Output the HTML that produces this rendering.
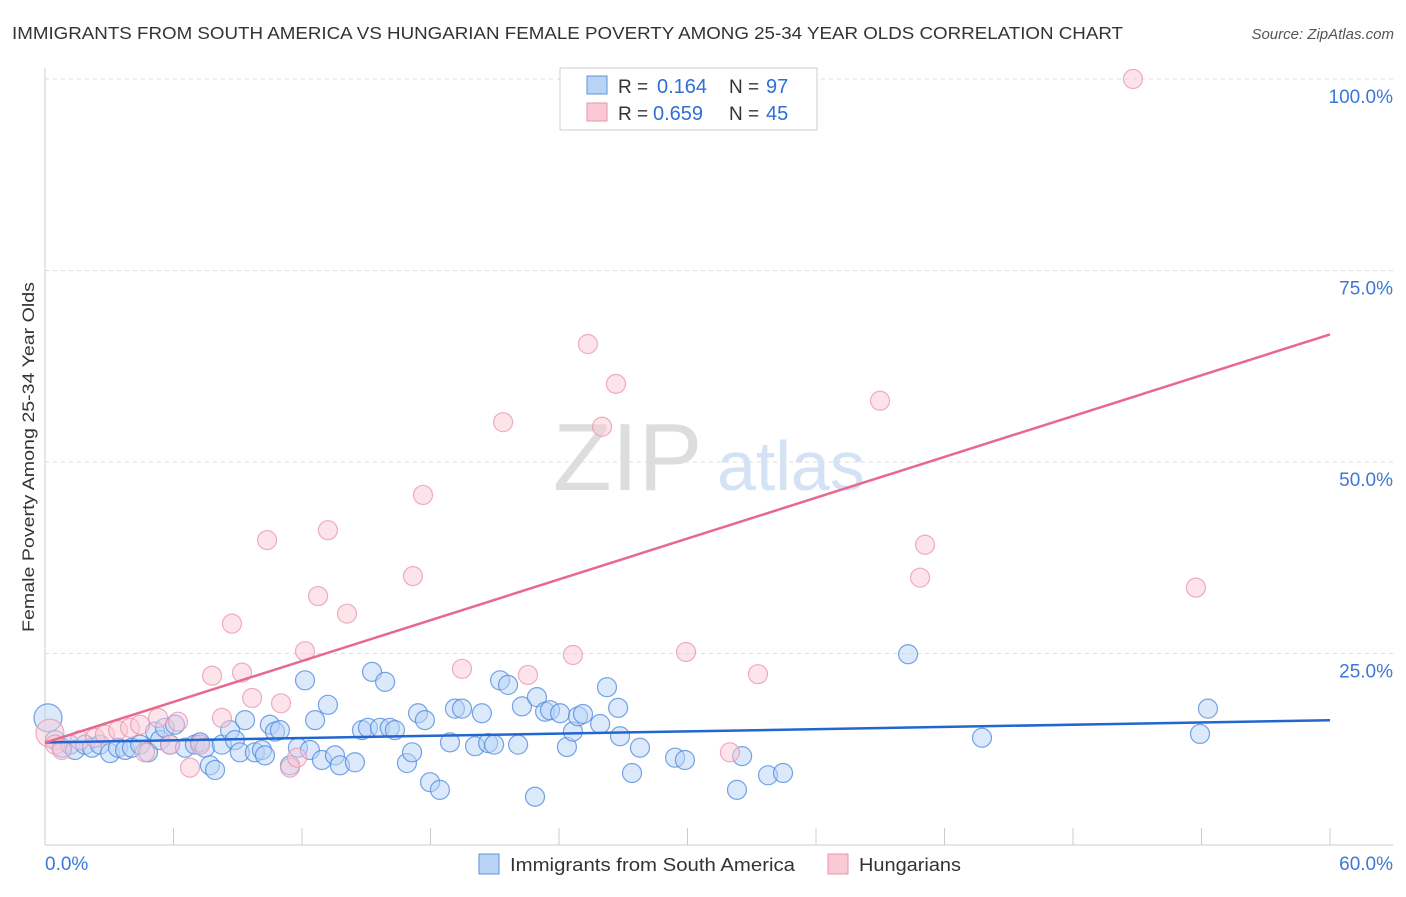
<!DOCTYPE html>
<html><head><meta charset="utf-8">
<style>
body{margin:0;background:#fff;font-family:"Liberation Sans",sans-serif;}
svg text{font-family:"Liberation Sans",sans-serif;}
</style></head>
<body>
<svg id="chart" width="1406" height="892" xmlns="http://www.w3.org/2000/svg">
<text x="12" y="39" font-size="17.5" fill="#333" textLength="1111" lengthAdjust="spacingAndGlyphs">IMMIGRANTS FROM SOUTH AMERICA VS HUNGARIAN FEMALE POVERTY AMONG 25-34 YEAR OLDS CORRELATION CHART</text>
<text x="1394" y="39" font-size="15" fill="#555" font-style="italic" text-anchor="end">Source: ZipAtlas.com</text>
<text x="553" y="490" font-size="96" fill="#ddd" font-family="Liberation Serif, serif">ZIP</text>
<text x="717" y="490" font-size="70" fill="#d4e2f5">atlas</text>
<g id="grid"></g>
<g id="axes"></g>
<g id="marks"></g>
<text transform="translate(34,457) rotate(-90)" font-size="17" fill="#333" text-anchor="middle" textLength="350" lengthAdjust="spacingAndGlyphs">Female Poverty Among 25-34 Year Olds</text>
<g>
<rect x="560" y="68" width="257" height="62" fill="#fff" stroke="#ccc"/>
<rect x="587" y="76" width="20" height="18" fill="#b8d3f5" stroke="#5b93de"/>
<rect x="587" y="103" width="20" height="18" fill="#f9c9d6" stroke="#e993ae"/>
<text x="618" y="93" font-size="19" fill="#333">R =</text>
<text x="657" y="93" font-size="20" fill="#2f6fd6">0.164</text>
<text x="729" y="93" font-size="19" fill="#333">N =</text>
<text x="766" y="93" font-size="20" fill="#2f6fd6">97</text>
<text x="618" y="120" font-size="19" fill="#333">R =</text>
<text x="653" y="120" font-size="20" fill="#2f6fd6">0.659</text>
<text x="729" y="120" font-size="19" fill="#333">N =</text>
<text x="766" y="120" font-size="20" fill="#2f6fd6">45</text>
</g>
<g>
<rect x="479" y="854" width="20" height="20" fill="#b8d3f5" stroke="#5b93de"/>
<text x="510" y="871" font-size="18.5" fill="#333" textLength="285" lengthAdjust="spacingAndGlyphs">Immigrants from South America</text>
<rect x="828" y="854" width="20" height="20" fill="#f9c9d6" stroke="#e993ae"/>
<text x="859" y="871" font-size="18.5" fill="#333" textLength="102" lengthAdjust="spacingAndGlyphs">Hungarians</text>
</g>
</svg>
<script>
const blueX=[0.14,0.47,0.79,1.17,1.4,1.87,2.19,2.57,3.04,3.41,3.74,4.06,4.44,4.81,5.14,5.37,5.6,5.84,6.07,6.54,7.0,7.24,7.47,7.7,7.94,8.26,8.64,8.87,9.1,9.34,9.8,10.13,10.27,10.5,10.74,10.97,11.44,11.81,12.14,12.37,12.61,12.93,13.21,13.54,13.77,14.47,14.8,15.08,15.27,15.64,15.88,16.1,16.34,16.9,17.14,17.42,17.74,17.98,18.44,18.91,19.14,19.47,20.08,20.4,20.69,20.97,21.25,21.62,22.09,22.27,22.88,22.97,23.35,23.58,24.05,24.37,24.65,24.89,25.12,25.92,26.24,26.76,26.85,27.41,27.78,29.42,29.88,32.31,32.55,33.76,34.46,40.3,43.75,53.93,54.3];
const blueY=[16.6,13.7,12.7,13.1,12.4,13.1,12.7,13.1,12.0,12.7,12.4,12.7,13.1,12.1,14.8,13.7,15.3,13.1,15.7,12.7,13.1,13.4,12.7,10.4,9.8,13.1,15.0,13.7,12.1,16.3,12.1,12.4,11.7,15.7,14.8,15.0,10.4,12.7,21.5,12.4,16.3,11.1,18.3,11.7,10.4,10.8,15.0,15.3,22.6,15.3,21.3,15.3,15.0,10.7,12.1,17.2,16.3,8.2,7.2,13.4,17.8,17.8,12.9,17.2,13.3,13.1,21.5,20.9,13.1,18.1,6.3,19.3,17.4,17.6,17.2,12.8,14.8,16.8,17.1,15.8,20.6,17.9,14.2,9.4,12.7,11.4,11.1,7.2,11.6,9.1,9.4,24.9,14.0,14.5,17.8];
const pinkX=[0.23,0.47,0.79,1.63,2.33,2.8,3.41,3.97,4.44,4.67,5.28,5.84,6.21,6.77,7.24,7.8,8.26,8.73,9.2,9.67,10.37,11.02,11.44,11.77,12.14,12.75,13.21,14.1,17.18,17.65,19.47,21.39,22.55,24.65,25.35,26.01,26.66,29.93,31.98,33.29,38.99,40.86,41.09,50.8,53.74];
const pinkY=[14.6,13.1,12.4,13.7,14.0,14.4,15.0,15.3,15.7,12.1,16.6,13.1,16.1,10.1,13.1,22.1,16.6,28.9,22.5,19.2,39.8,18.5,10.1,11.4,25.3,32.5,41.1,30.2,35.1,45.7,23.0,55.2,22.2,24.8,65.4,54.6,60.2,25.2,12.1,22.3,58.0,34.9,39.2,100,33.6];
const xTicks=["0.0%","60.0%"];
const yTicks=[25,50,75,100];
const yTickLabels=["25.0%","50.0%","75.0%","100.0%"];

const NS="http://www.w3.org/2000/svg";
const X0=45,X1=1330,Y0=845,Y100=79;
const sx=v=>X0+(v/60)*(X1-X0);
const sy=v=>Y0-(v/100)*(Y0-Y100);
function mk(tag,attrs,parent){const e=document.createElementNS(NS,tag);for(const k in attrs)e.setAttribute(k,attrs[k]);parent.appendChild(e);return e;}
const grid=document.getElementById('grid'),axes=document.getElementById('axes'),marks=document.getElementById('marks');
yTicks.forEach((t,i)=>{
  const l=mk('line',{x1:X0,x2:1393,y1:sy(t),y2:sy(t),stroke:'#ddd','stroke-dasharray':'4,4'},grid);
  
  
  const tx=mk('text',{x:1393,y:sy(t)+24,'font-size':19,fill:'#3b78d8','text-anchor':'end'},axes);
  tx.textContent=yTickLabels[i];
  
  
});
const ax=mk('line',{x1:X0,x2:1393,y1:Y0,y2:Y0,stroke:'#ccc'},axes);


const ay=mk('line',{x1:X0,x2:X0,y1:68,y2:Y0,stroke:'#ccc'},axes);


for(let i=0;i<=10;i++){
  const t=mk('line',{x1:sx(i*6),x2:sx(i*6),y1:828,y2:Y0,stroke:'#ccc'},axes);
  
  
}
const xl0=mk('text',{x:45,y:870,'font-size':19,fill:'#3b78d8'},axes);xl0.textContent=xTicks[0];


const xl1=mk('text',{x:1393,y:870,'font-size':19,fill:'#3b78d8','text-anchor':'end'},axes);xl1.textContent=xTicks[1];



function fit(xs,ys){const n=xs.length;let mx=0,my=0;for(let i=0;i<n;i++){mx+=xs[i];my+=ys[i];}mx/=n;my/=n;let sxy=0,sxx=0;for(let i=0;i<n;i++){sxy+=(xs[i]-mx)*(ys[i]-my);sxx+=(xs[i]-mx)**2;}const b=sxy/sxx;return [my-b*mx,b];}
function pts(xs,ys,fill,stroke,name){
  xs.forEach((x,i)=>{
    const r=(i===0)?14:9.5;
    const c=mk('circle',{cx:sx(x),cy:sy(ys[i]),r:r,fill:fill,'fill-opacity':0.5,stroke:stroke,'stroke-width':1.2,'stroke-opacity':0.75},marks);
    
    
  });
}
pts(blueX,blueY,'#b8d3f5','#4b87dc','point-south-america');
pts(pinkX,pinkY,'#f9c9d6','#e993ae','point-hungarians');
function trend(xs,ys,col,name){
  const [a,b]=fit(xs,ys);
  const l=mk('line',{x1:sx(0),y1:sy(a),x2:sx(60),y2:sy(a+b*60),stroke:col,'stroke-width':2.5},marks);
  
  
}
trend(blueX,blueY,'#2266d0','trendline-south-america');
trend(pinkX,pinkY,'#e8688f','trendline-hungarians');
</script>
</body></html>
